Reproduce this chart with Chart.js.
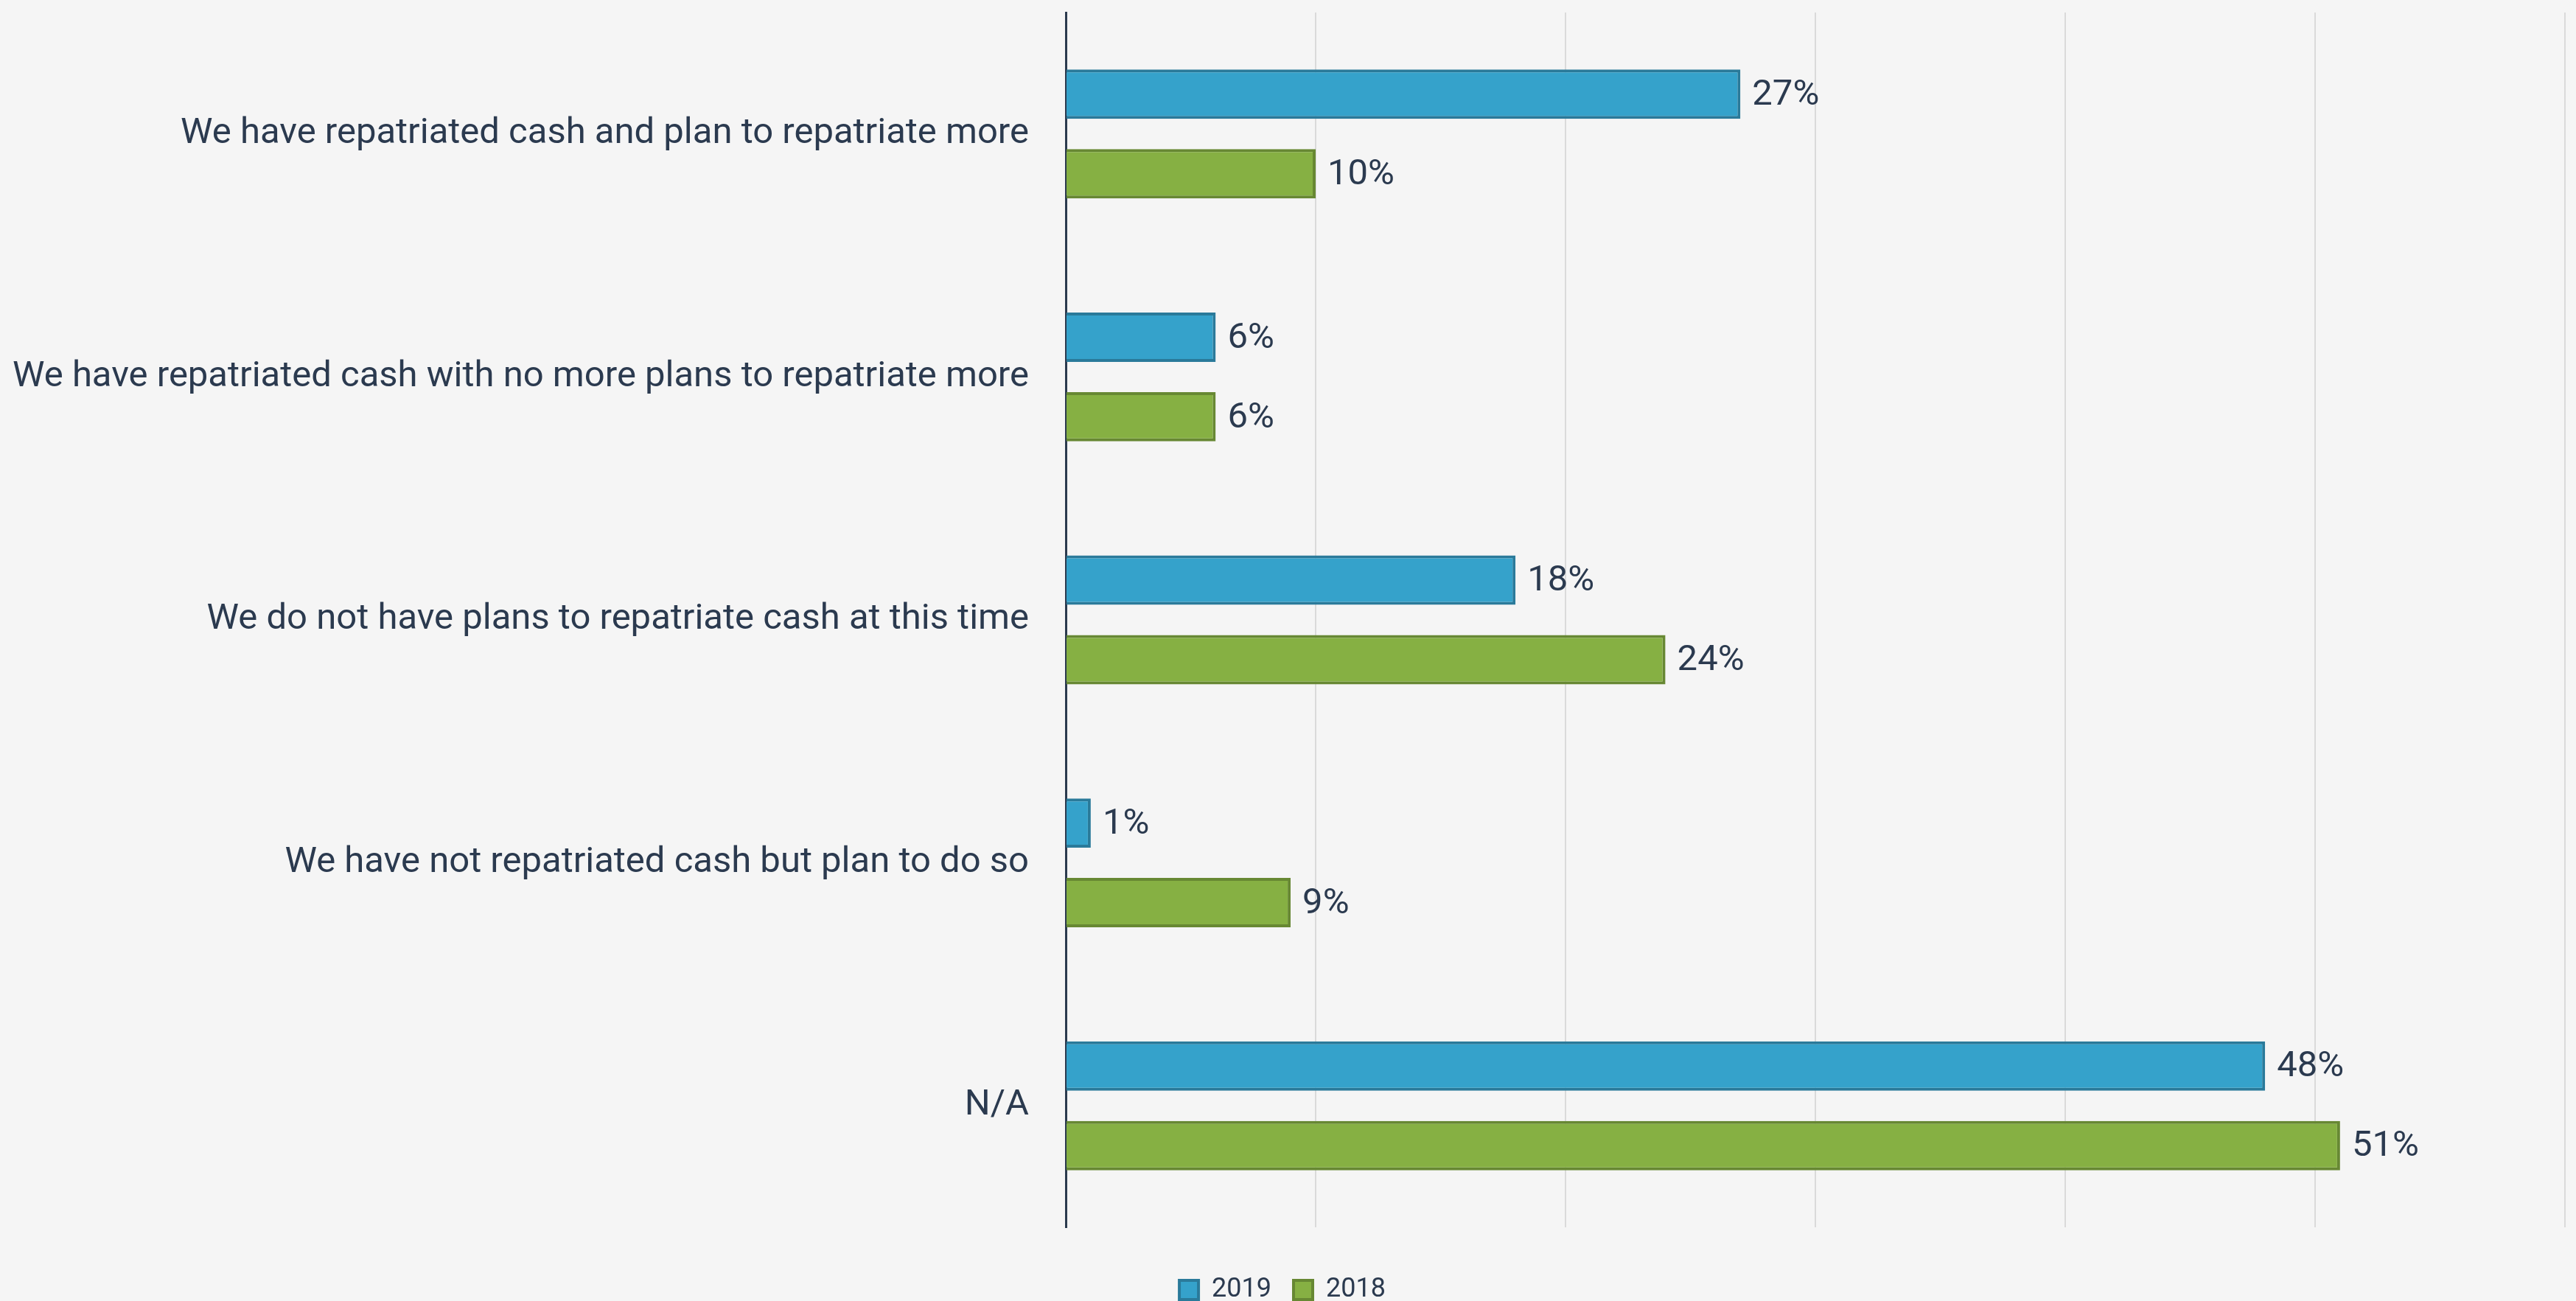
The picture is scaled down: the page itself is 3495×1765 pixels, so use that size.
<!DOCTYPE html>
<html>
<head>
<meta charset="utf-8">
<script src="https://cdn.jsdelivr.net/npm/chart.js@4/dist/chart.umd.min.js"></script>
<style>
  html, body { margin: 0; padding: 0; background: #f5f5f5; }
  canvas { display: block; }
</style>
</head>
<body>
<canvas id="repatChart" width="3495" height="1765"></canvas>
<script>
const categories = [
  'We have repatriated cash and plan to repatriate more',
  'We have repatriated cash with no more plans to repatriate more',
  'We do not have plans to repatriate cash at this time',
  'We have not repatriated cash but plan to do so',
  'N/A'
];
const values2019 = [27, 6, 18, 1, 48];
const values2018 = [10, 6, 24, 9, 51];
const xTicks = [0, 10, 20, 30, 40, 50, 60];

const TEXT = '#2b3a4f';
const FONT = 'Roboto, "Noto Sans", sans-serif';

// value labels at the end of each bar
const barLabels = {
  id: 'barLabels',
  afterDatasetsDraw(chart) {
    const ctx = chart.ctx;
    ctx.save();
    ctx.font = '49px ' + FONT;
    ctx.fillStyle = TEXT;
    ctx.textAlign = 'left';
    ctx.textBaseline = 'middle';
    chart.data.datasets.forEach((ds, i) => {
      chart.getDatasetMeta(i).data.forEach((bar, j) => {
        ctx.fillText(ds.data[j] + '%', bar.x + 16, bar.y + 2);
      });
    });
    ctx.restore();
  }
};

new Chart(document.getElementById('repatChart'), {
  type: 'bar',
  data: {
    labels: categories,
    datasets: [
      { label: '2019', data: values2019, backgroundColor: '#35a2cb', borderColor: '#2a7a9a', borderWidth: 4,
        categoryPercentage: 0.655, barPercentage: 0.62 },
      { label: '2018', data: values2018, backgroundColor: '#86b043', borderColor: '#678833', borderWidth: 4,
        categoryPercentage: 0.655, barPercentage: 0.62 }
    ]
  },
  options: {
    indexAxis: 'y',
    responsive: false,
    animation: false,
    devicePixelRatio: 1,
    layout: { padding: { top: 17, right: 15, left: 0, bottom: -13 } },
    scales: {
      x: {
        min: 0, max: 60,
        afterBuildTicks: (s) => { s.ticks = xTicks.map(v => ({ value: v })); },
        afterFit: (s) => { s.height = 37; },
        ticks: { display: false },
        grid: { color: '#dadada', lineWidth: 2, drawTicks: false },
        border: { display: false }
      },
      y: {
        afterFit: (s) => { s.width = 1446; s.paddingTop = 0; s.paddingBottom = 0; },
        ticks: { color: TEXT, font: { family: FONT, size: 49 }, padding: 50 },
        grid: { display: false, drawTicks: false },
        border: { display: true, color: '#2b3a4e', width: 3 }
      }
    },
    plugins: {
      legend: {
        position: 'bottom',
        labels: { color: TEXT, font: { family: FONT, size: 36 }, boxWidth: 26, boxHeight: 26, padding: 30 }
      },
      tooltip: { enabled: false }
    }
  },
  plugins: [barLabels]
});
</script>
</body>
</html>
